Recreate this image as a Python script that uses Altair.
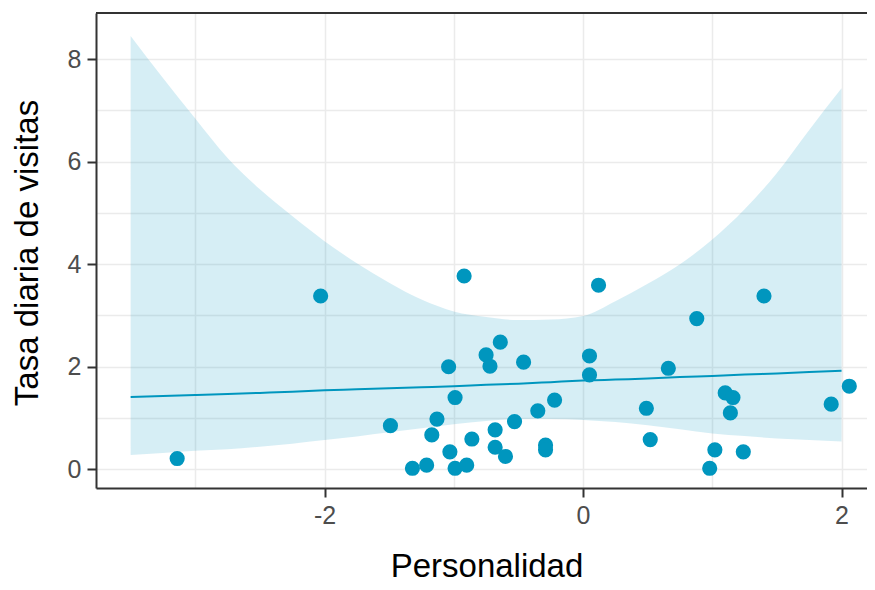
import altair as alt
import pandas as pd

# scatter points (Personalidad, Tasa diaria de visitas)
px = [-3.14, -2.03, -1.49, -1.32, -1.21, -1.17, -1.13, -1.04, -1.03, -0.99,
      -0.99, -0.92, -0.90, -0.86, -0.75, -0.72, -0.68, -0.68, -0.64, -0.60,
      -0.53, -0.46, -0.35, -0.29, -0.29, -0.22, 0.05, 0.05, 0.12, 0.49,
      0.52, 0.66, 0.88, 0.98, 1.02, 1.10, 1.14, 1.16, 1.24, 1.40, 1.92, 2.06]
py = [0.21, 3.38, 0.85, 0.02, 0.08, 0.67, 0.98, 2.00, 0.34, 1.40,
      0.02, 3.77, 0.08, 0.59, 2.23, 2.01, 0.77, 0.43, 2.48, 0.25,
      0.93, 2.09, 1.14, 0.47, 0.38, 1.35, 2.21, 1.84, 3.59, 1.19,
      0.58, 1.97, 2.94, 0.02, 0.38, 1.49, 1.10, 1.40, 0.34, 3.38, 1.27, 1.62]

# fitted curve and confidence band
fx = [-3.5, -3.25, -3.0, -2.75, -2.5, -2.25, -2.0, -1.75, -1.5, -1.25, -1.0, -0.75,
      -0.5, -0.25, 0.0, 0.25, 0.5, 0.75, 1.0, 1.25, 1.5, 1.75, 2.0]
fit = [1.41, 1.43, 1.45, 1.47, 1.49, 1.51, 1.54, 1.56, 1.58, 1.60, 1.62, 1.65,
       1.67, 1.70, 1.73, 1.75, 1.77, 1.80, 1.82, 1.85, 1.87, 1.90, 1.92]
upper = [8.45, 7.63, 6.84, 6.07, 5.46, 4.94, 4.45, 4.02, 3.64, 3.31, 3.08, 2.97,
         2.91, 2.92, 2.99, 3.28, 3.62, 4.00, 4.48, 5.07, 5.78, 6.62, 7.43]
lower = [0.28, 0.32, 0.36, 0.39, 0.44, 0.50, 0.57, 0.64, 0.72, 0.80, 0.88, 0.94,
         0.98, 0.98, 0.96, 0.92, 0.86, 0.78, 0.70, 0.65, 0.60, 0.57, 0.54]

grid_x = [-3, -2, -1, 0, 1, 2]
grid_y = [0, 1, 2, 3, 4, 5, 6, 7, 8]

pts = pd.DataFrame({"x": px, "y": py})
band = pd.DataFrame({"x": fx, "fit": fit, "lo": lower, "hi": upper})

BLUE = "#0096BE"
FONT = "Liberation Sans"

xscale = alt.Scale(domain=[-3.768, 2.197], nice=False, zero=False)
yscale = alt.Scale(domain=[-0.365, 8.9], nice=False, zero=False)

even = "datum.value % 2 === 0"

xaxis = alt.Axis(
    values=grid_x, title="Personalidad",
    labelExpr=f"{even} ? '' + datum.value : ''",
    tickOpacity={"condition": {"test": even, "value": 1}, "value": 0},
    titleX=390.5, titleY=88, titleBaseline="alphabetic", titleAlign="center",
)
yaxis = alt.Axis(
    values=grid_y, title="Tasa diaria de visitas",
    labelExpr=f"{even} ? '' + datum.value : ''",
    tickOpacity={"condition": {"test": even, "value": 1}, "value": 0},
    titleX=-59, titleY=239.5, titleBaseline="alphabetic", titleAlign="center", titleAngle=270,
)

ribbon = alt.Chart(band).mark_area(color=BLUE, opacity=0.16, interpolate="monotone").encode(
    x=alt.X("x:Q", scale=xscale, axis=xaxis),
    y=alt.Y("lo:Q", scale=yscale, axis=yaxis),
    y2="hi:Q",
)
line = alt.Chart(band).mark_line(color=BLUE, strokeWidth=2, interpolate="monotone").encode(
    x=alt.X("x:Q", scale=xscale),
    y=alt.Y("fit:Q", scale=yscale),
)
points = alt.Chart(pts).mark_circle(color=BLUE, opacity=1, size=230).encode(
    x=alt.X("x:Q", scale=xscale),
    y=alt.Y("y:Q", scale=yscale),
)
topline = alt.Chart(pd.DataFrame({"a": [0]})).mark_rule(color="#333333", strokeWidth=2).encode(
    y=alt.value(0)
)

chart = alt.layer(ribbon, line, points, topline).properties(
    width=771, height=475,
    autosize=alt.AutoSizeParams(type="none"),
    padding={"left": 88, "top": 5, "right": 0, "bottom": 94},
    background="white",
).configure_view(stroke=None).configure_axis(
    grid=True, gridColor="#EBEBEB", gridWidth=1.5,
    domainColor="#333333", domainWidth=2,
    tickColor="#333333", tickWidth=2, tickSize=9,
    labelFont=FONT, labelFontSize=25, labelColor="#4D4D4D", labelPadding=6,
    titleFont=FONT, titleFontSize=33, titleColor="#000000", titleFontWeight="normal",
    labelFlush=False, labelOverlap=False,
)

chart.save("out.html", embed_options={"renderer": "svg", "actions": False})
